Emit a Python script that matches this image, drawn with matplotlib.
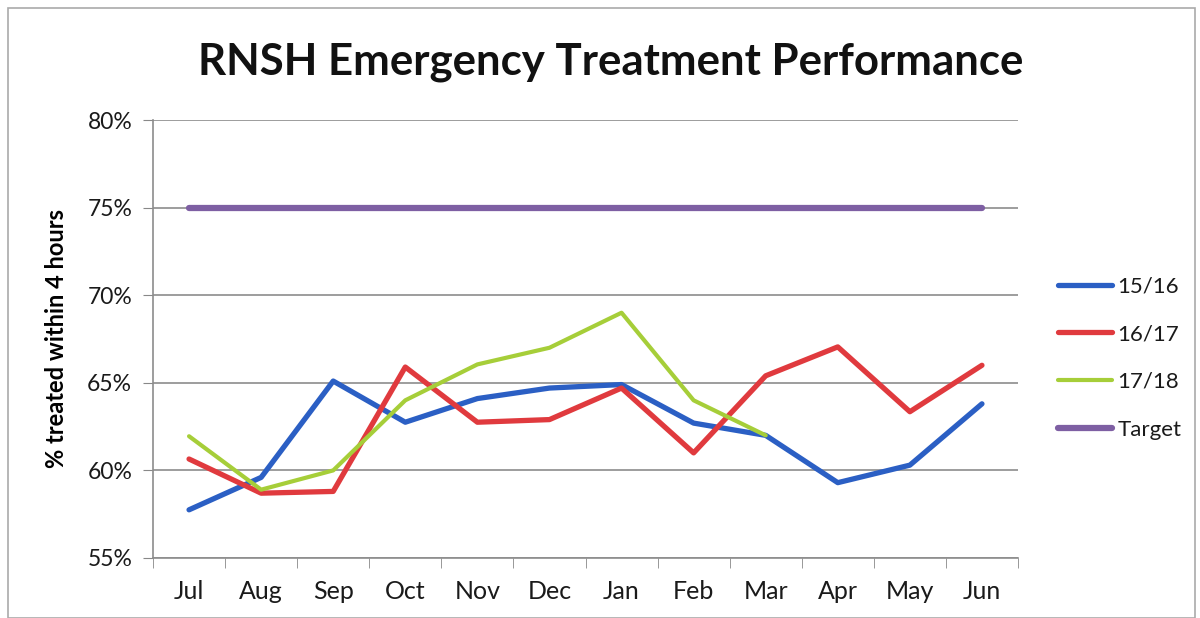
import matplotlib
matplotlib.use("Agg")
import matplotlib.pyplot as plt
from matplotlib.patches import Rectangle
from matplotlib.ticker import FuncFormatter, FixedLocator

months = ["Jul", "Aug", "Sep", "Oct", "Nov", "Dec", "Jan", "Feb", "Mar", "Apr", "May", "Jun"]
s1516 = [57.75, 59.6, 65.1, 62.75, 64.1, 64.7, 64.9, 62.7, 62.0, 59.3, 60.3, 63.8]
s1617 = [60.65, 58.7, 58.8, 65.9, 62.75, 62.9, 64.7, 61.0, 65.4, 67.05, 63.35, 66.0]
s1718 = [61.95, 58.9, 60.0, 64.0, 66.05, 67.0, 69.0, 64.0, 62.0]
target = [75] * 12
yticks = [55, 60, 65, 70, 75, 80]

plt.rcParams['font.family'] = ['Lato', 'DejaVu Sans']

fig = plt.figure(figsize=(12, 6.18), dpi=100)
ax = fig.add_axes([153/1200, 1 - 558/618, (1018-153)/1200, (558-120)/618])

x = list(range(len(months)))
ax.plot(x, s1516, color="#2B5FC4", lw=3.8, label="15/16", solid_capstyle="round")
ax.plot(x, s1617, color="#E03A3E", lw=3.8, label="16/17", solid_capstyle="round")
ax.plot(x[:len(s1718)], s1718, color="#A6CE39", lw=3.0, label="17/18", solid_capstyle="round")
ax.plot(x, target, color="#7E5FA3", lw=4.5, label="Target", solid_capstyle="round")

ax.set_xlim(-0.5, len(months) - 0.5)
ax.set_ylim(55, 80)
ax.set_xticks(x)
ax.set_xticklabels(months, fontsize=18)
ax.xaxis.set_minor_locator(FixedLocator([i - 0.5 for i in range(len(months) + 1)]))
ax.tick_params(axis='x', which='major', length=0, pad=16, colors='#1a1a1a')
ax.tick_params(axis='x', which='minor', length=7, color='#888888')
ax.set_yticks(yticks)
ax.yaxis.set_major_formatter(FuncFormatter(lambda v, p: f"{int(v)}%"))
ax.tick_params(axis='y', length=7, labelsize=16.5, pad=8, colors='#1a1a1a')
ax.tick_params(axis='y', color='#888888')
ax.grid(axis='y', color='#8c8c8c', lw=1.2)
ax.set_axisbelow(True)
for s in ['top', 'right']:
    ax.spines[s].set_visible(False)
for s in ['left', 'bottom']:
    ax.spines[s].set_color('#8c8c8c')
    ax.spines[s].set_linewidth(1.2)

ax.set_ylabel("% treated within 4 hours", fontsize=17, fontweight='bold', labelpad=14)
fig.text(0.509, 1 - 62/618, "RNSH Emergency Treatment Performance", ha='center', va='center',
         fontsize=31.5, fontweight='bold', color='#111111')

leg = fig.legend(loc='center left', bbox_to_anchor=(1058/1200, 1 - 358/618), frameon=False, fontsize=16,
                 handlelength=2.45, labelspacing=1.25, handletextpad=0.22,
                 borderpad=0, borderaxespad=0)
for t in leg.get_texts():
    t.set_color('#1a1a1a')

fig.patches.append(Rectangle((8/1200, 0), (1195-8)/1200, 1 - 8/618, transform=fig.transFigure,
                             fill=False, edgecolor='#aaaaaa', lw=1.2))

fig.savefig("out.png", dpi=100, facecolor='white')
